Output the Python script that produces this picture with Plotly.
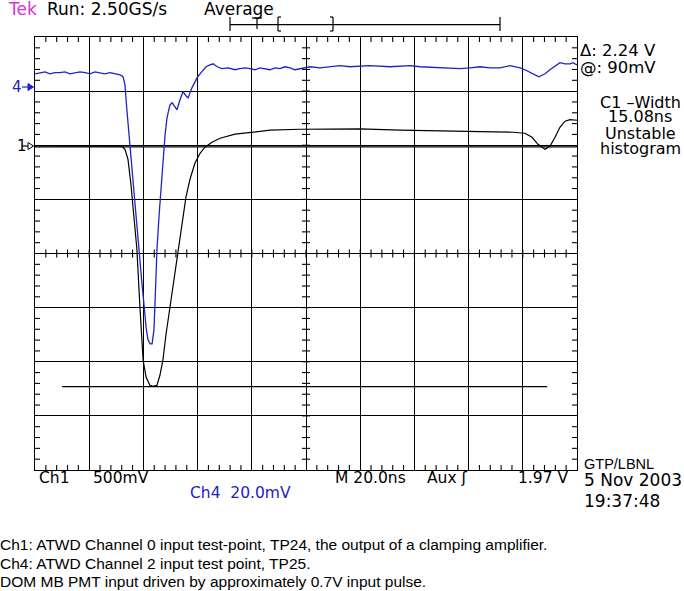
import plotly.graph_objects as go

# ---------------- data (time in ns, amplitude in mV) ----------------
ch1_t = [-100, -90.8, -79.7, -68.6, -67.9, -66.8, -65.7, -64.6, -63.5, -62.4,
         -61.3, -60.1, -59.0, -57.6, -56.5, -55.0, -53.9, -52.8, -51.7, -50.2,
         -48.7, -47.2, -45.8, -44.3, -42.8, -41.0, -39.1, -37.3, -34.7, -31.7,
         -26.2, -20.7, -13.3, -2.2, 8.9, 19.9, 34.7, 49.4, 64.2, 76.4,
         80.8, 83.4, 85.6, 88.2, 90.0, 91.9, 93.7, 95.6, 97.4, 100]
ch1_mv = [-5, -5, -5, -5, -9, -37, -129, -360, -684, -961,
          -1487, -1986, -2143, -2217, -2226, -2217, -2125, -1986, -1755, -1487,
          -1219, -961, -702, -480, -314, -166, -74, -18, 28, 65,
          102, 120, 139, 148, 148, 152, 139, 129, 125, 120,
          111, 74, 9, -37, -9, 74, 166, 222, 236, 231]

ch4_t = [-100.0, -98.2, -96.3, -94.5, -92.6, -90.8, -88.9, -87.1, -85.2, -83.4,
         -81.5, -79.7, -77.9, -76.0, -74.2, -72.3, -70.5, -68.6, -67.5, -66.8,
         -66.1, -65.3, -64.6, -63.8, -62.7, -61.6, -60.5, -59.7, -59.0, -58.3,
         -57.5, -56.8, -56.1, -55.4, -55.0, -54.2, -53.5, -52.8, -52.0, -51.3,
         -50.2, -49.4, -48.3, -47.6, -46.5, -45.4, -44.3, -43.5, -42.1, -41.0,
         -40.2, -39.1, -38.0, -36.9, -35.4, -34.3, -32.8, -31.0, -28.8, -26.2,
         -24.4, -22.5, -20.7, -18.8, -17.0, -15.1, -13.3, -11.4, -9.6, -7.7,
         -5.9, -4.1, -2.2, 1.5, 5.2, 8.9, 12.5, 16.2, 23.6, 31.0,
         38.4, 42.1, 49.4, 53.1, 56.8, 60.5, 64.2, 67.9, 71.6, 75.3,
         79.0, 80.8, 82.7, 84.5, 86.0, 88.2, 90.0, 91.9, 93.7, 95.6,
         97.4, 98.5, 100.0]
ch4_mv = [4.8, 5.2, 5.5, 4.8, 5.2, 5.2, 5.5, 4.8, 5.2, 5.5,
          5.2, 4.8, 5.5, 5.2, 4.8, 5.2, 4.8, 4.4, 3.7, 0.7,
          -8.5, -17.7, -27.0, -38.1, -49.2, -60.2, -73.1, -81.3, -89.0, -93.5,
          -95.0, -95.0, -89.8, -71.3, -60.2, -47.3, -38.1, -27.0, -17.7, -11.5,
          -6.7, -5.9, -7.4, -8.5, -4.8, -1.8, -3.3, -4.1, -0.4, 1.8,
          3.3, 4.8, 6.3, 7.4, 8.1, 8.5, 7.4, 6.7, 7.0, 6.3,
          6.7, 7.0, 6.7, 6.3, 7.0, 6.7, 6.3, 7.0, 6.7, 7.4,
          7.0, 6.3, 6.7, 7.4, 7.0, 7.4, 7.8, 7.4, 7.8, 7.4,
          7.8, 7.4, 7.0, 6.7, 6.7, 7.0, 7.4, 7.0, 7.0, 7.8,
          7.0, 6.3, 5.2, 4.4, 3.7, 4.8, 6.3, 7.8, 8.9, 8.5,
          8.5, 8.9, 8.1]

cursor_mv = [-15, -2230]          # Ch1 horizontal bar cursors
cursor2_span = [-90, 89]          # extent of the lower cursor (ns)

top_texts = ["Run: 2.50GS/s", "Average"]
right_meas = ["\u0394: 2.24 V", "@: 90mV"]
right_info = ["C1 \u2013Width", "15.08ns", "Unstable", "histogram"]
bottom_texts = [("Ch1", 39), ("500mV", 93), ("M 20.0ns", 335), ("Aux \u0283", 427), ("1.97 V", 518)]
ch4_label = "Ch4  20.0mV"
stamp = ["GTP/LBNL", "5 Nov 2003", "19:37:48"]
notes = ["Ch1: ATWD Channel 0 input test-point, TP24, the output of a clamping amplifier.",
         "Ch4: ATWD Channel 2 input test point, TP25.",
         "DOM MB PMT input driven by approximately 0.7V input pulse."]

# ---------------- geometry ----------------
W, H = 684, 591
L, R, T, B = 35, 577, 37, 470
BLUE = "#2222c4"
SCOPE_FONT = "DejaVu Sans"


def px(x):
    return (x - L) / (R - L)


def py(y):
    return (B - y) / (B - T)


fig = go.Figure()

# graticule minor ticks (border + center crosshair)
tx, ty = [], []
def seg(x0, y0, x1, y1):
    tx.extend([x0, x1, None]); ty.extend([y0, y1, None])

for k in range(1, 50):
    t = -100 + 4 * k
    if k % 5:
        seg(t, 1000, t, 1000 - 46)
        seg(t, -3000, t, -3000 + 46)
    seg(t, -1000 - 37, t, -1000 + 37)
for k in range(1, 40):
    v = -3000 + 100 * k
    if k % 5:
        seg(-100, v, -100 + 1.85, v)
        seg(100, v, 100 - 1.85, v)
    seg(-1.48, v, 1.48, v)

fig.add_trace(go.Scatter(x=tx, y=ty, mode="lines", line=dict(color="black", width=1.1),
                         hoverinfo="skip", showlegend=False))

# cursors
fig.add_trace(go.Scatter(x=[-100, 100], y=[cursor_mv[0]] * 2, mode="lines",
                         line=dict(color="black", width=1.1), hoverinfo="skip", showlegend=False))
fig.add_trace(go.Scatter(x=cursor2_span, y=[cursor_mv[1]] * 2, mode="lines",
                         line=dict(color="black", width=1.1), hoverinfo="skip", showlegend=False))

# traces
fig.add_trace(go.Scatter(x=ch1_t, y=ch1_mv, mode="lines", name="Ch1",
                         line=dict(color="black", width=1.2), showlegend=False))
fig.add_trace(go.Scatter(x=ch4_t, y=ch4_mv, mode="lines", name="Ch4", yaxis="y2",
                         line=dict(color=BLUE, width=1.3), showlegend=False))

shapes = []
def pline(x0, y0, x1, y1, color="black", w=1.2):
    shapes.append(dict(type="line", xref="paper", yref="paper",
                       x0=px(x0), y0=py(y0), x1=px(x1), y1=py(y1),
                       line=dict(color=color, width=w)))

# record-view bar at the top
pline(230, 24.6, 500, 24.6)
pline(230, 17, 230, 31)
pline(500, 17, 500, 31)
pline(252, 18, 262, 18)
pline(257, 18, 257, 29)
pline(278, 17, 278, 31); pline(278, 17, 281, 17); pline(278, 31, 281, 31)
pline(333, 17, 333, 31); pline(330, 17, 333, 17); pline(330, 31, 333, 31)

# ground markers
pline(22, 146, 33, 146)
shapes.append(dict(type="path", xref="paper", yref="paper",
                   path=f"M {px(28)},{py(142.5)} L {px(33.5)},{py(146)} L {px(28)},{py(149.5)} Z",
                   line=dict(color="black", width=1), fillcolor="white"))
pline(22, 87, 33, 87, color=BLUE)
shapes.append(dict(type="path", xref="paper", yref="paper",
                   path=f"M {px(28)},{py(83.5)} L {px(33.5)},{py(87)} L {px(28)},{py(90.5)} Z",
                   line=dict(color=BLUE, width=1), fillcolor=BLUE))

ann = []
def text(s, x, y, size=17, color="black", family=SCOPE_FONT, anchor="left"):
    ann.append(dict(xref="paper", yref="paper", x=px(x), y=py(y), text=s, showarrow=False,
                    xanchor=anchor, yanchor="middle", font=dict(family=family, size=size, color=color)))

text("Tek", 6, 9.5, color="#e02fcf")
text(top_texts[0], 45, 9.5)
text(top_texts[1], 202, 9.5)
text(right_meas[0], 578, 51, size=16.5)
text(right_meas[1], 578, 67, size=16.5)
for s, y in zip(right_info, [102, 117, 133.5, 148]):
    text(s, 640, y, size=16, anchor="center")
for s, x in bottom_texts:
    text(s, x - 2, 478, size=15.5)
text(ch4_label, 188, 493, size=15.5, color=BLUE)
text(stamp[0], 582, 463.5, size=14.5, family="Liberation Sans")
text(stamp[1], 582, 479.5)
text(stamp[2], 582, 501)
for s, y in zip(notes, [544, 563.5, 581.5]):
    text(s, -2, y, size=15.5, family="Liberation Sans")
text("1", 15, 146, size=15)
text("4", 10, 87, size=15, color=BLUE)

axis_common = dict(showticklabels=False, zeroline=False, ticks="",
                   showline=True, mirror=True, linecolor="black", linewidth=1.4,
                   showgrid=True, gridcolor="black", gridwidth=1.1)

fig.update_layout(
    width=W, height=H,
    margin=dict(l=L, r=W - R, t=T, b=H - B, pad=0),
    paper_bgcolor="white", plot_bgcolor="white",
    showlegend=False,
    xaxis=dict(range=[-100, 100], dtick=20, tick0=0, **axis_common),
    yaxis=dict(range=[-3000, 1000], dtick=500, tick0=0, **axis_common),
    yaxis2=dict(range=[-141.6, 18.4], overlaying="y", visible=False, showgrid=False),
    shapes=shapes,
    annotations=ann,
)

fig.write_html("out.html", config={"displayModeBar": False},
               post_script="document.body.style.margin='0px';document.body.style.padding='0px';")
